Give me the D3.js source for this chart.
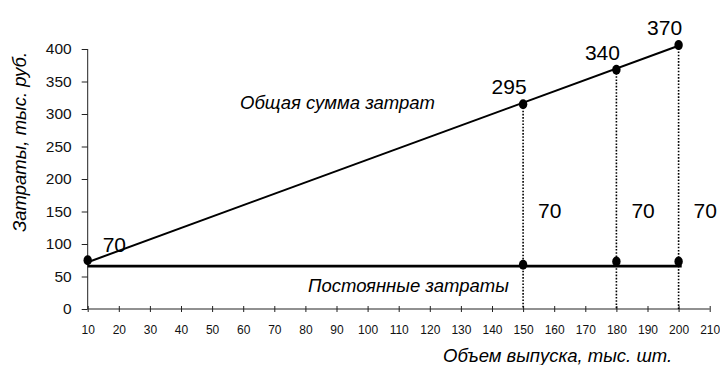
<!DOCTYPE html>
<html>
<head>
<meta charset="utf-8">
<script src="https://cdn.jsdelivr.net/npm/d3@7"></script>
<style>
  body { margin: 0; background: #fff; }
  svg { display: block; font-family: "Liberation Sans", Arial, sans-serif; }
</style>
</head>
<body>
<svg id="chart" width="720" height="365"></svg>
<script>
// data
const xTicks = d3.range(10, 211, 10);
const yTicks = d3.range(0, 401, 50);

const totalLine = [[10, 72], [200, 405]];      // общая сумма затрат
const totalPoints = [[10, 75], [150, 315], [180, 368], [200, 406]];
const totalLabels = ["", "295", "340", "370"];

const fixedLine = [[10, 66], [201, 66]];        // постоянные затраты
const fixedPoints = [[150, 68], [180, 73], [200, 73]];
const fixedLabels = ["70", "70", "70", "70"];

const svg = d3.select("#chart");

const x = d3.scaleLinear().domain([10, 210]).range([87.7, 709.7]);
const y = d3.scaleLinear().domain([0, 400]).range([309, 49]);

// y axis
const yAxis = svg.append("g")
  .attr("transform", "translate(87.7,0)")
  .call(d3.axisLeft(y).tickValues(yTicks).tickSize(6).tickPadding(10));
yAxis.select(".domain").attr("d", `M0,${y(400)}V${y(0)}`).attr("stroke", "#222");
yAxis.selectAll(".tick line").attr("stroke", "#222");
yAxis.selectAll("text").attr("font-size", 15.5).attr("fill", "#111");

// x axis - ticks cross the line
const xAxis = svg.append("g")
  .attr("transform", "translate(0,309)")
  .call(d3.axisBottom(x).tickValues(xTicks).tickSize(3).tickPadding(13.5));
xAxis.select(".domain").attr("d", `M${x(10)},0H${x(210)}`).attr("stroke", "#222");
xAxis.selectAll(".tick line").attr("y1", -3).attr("stroke", "#222");
xAxis.selectAll("text").attr("font-size", 12).attr("fill", "#111");

// dotted drop lines
svg.append("g").selectAll("line")
  .data(totalPoints.slice(1))
  .join("line")
  .attr("x1", d => x(d[0])).attr("x2", d => x(d[0]))
  .attr("y1", d => y(d[1])).attr("y2", y(0))
  .attr("stroke", "#000").attr("stroke-width", 1.6)
  .attr("stroke-dasharray", "1.6,1.6");

const line = d3.line().x(d => x(d[0])).y(d => y(d[1]));

svg.append("path").datum(fixedLine).attr("d", line)
  .attr("fill", "none").attr("stroke", "#000").attr("stroke-width", 2.6);
svg.append("path").datum(totalLine).attr("d", line)
  .attr("fill", "none").attr("stroke", "#000").attr("stroke-width", 2);

// markers
svg.append("g").selectAll("ellipse")
  .data(totalPoints.concat(fixedPoints))
  .join("ellipse")
  .attr("cx", d => x(d[0])).attr("cy", d => y(d[1]))
  .attr("rx", 4.2).attr("ry", 5)
  .attr("fill", "#000");

// value labels on total line
svg.append("g").selectAll("text")
  .data(totalPoints)
  .join("text")
  .attr("x", d => x(d[0]) - 14)
  .attr("y", d => y(d[1]) - 10)
  .attr("text-anchor", "middle")
  .attr("font-size", 21)
  .text((d, i) => totalLabels[i]);

// the "70" labels
const fixedAt = [[10, 66]].concat(fixedPoints);
svg.append("g").selectAll("text")
  .data(fixedAt)
  .join("text")
  .attr("x", d => x(d[0]) + 15)
  .attr("y", (d, i) => i === 0 ? y(d[1]) - 14 : y(140))
  .attr("font-size", 21)
  .text((d, i) => fixedLabels[i]);

// captions
svg.append("text")
  .attr("x", 240).attr("y", 109)
  .attr("font-size", 18.5).attr("font-style", "italic")
  .text("Общая сумма затрат");

svg.append("text")
  .attr("x", 308).attr("y", 291.5)
  .attr("font-size", 18.5).attr("font-style", "italic")
  .text("Постоянные затраты");

svg.append("text")
  .attr("x", 443).attr("y", 362)
  .attr("font-size", 18.5).attr("font-style", "italic")
  .text("Объем выпуска, тыс. шт.");

svg.append("text")
  .attr("transform", "translate(26,142) rotate(-90)")
  .attr("text-anchor", "middle")
  .attr("font-size", 18.5).attr("font-style", "italic")
  .text("Затраты, тыс. руб.");
</script>
</body>
</html>
